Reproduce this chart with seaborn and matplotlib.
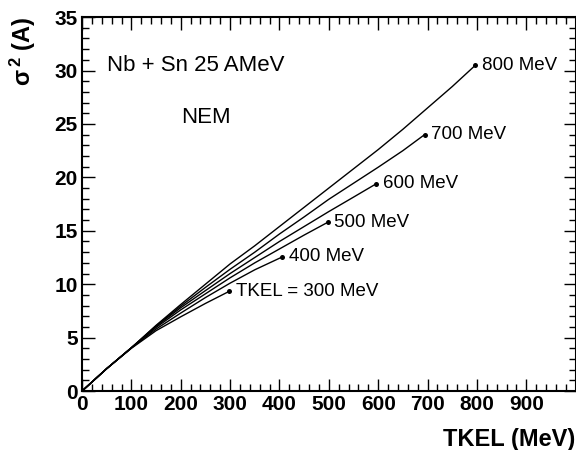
import matplotlib
matplotlib.use("Agg")
import matplotlib.pyplot as plt
import seaborn as sns
import pandas as pd
from matplotlib.ticker import MultipleLocator

# ---- data ----
tkel_300 = [0, 50, 100, 150, 200, 250, 298]
sig_300 = [0, 2.1, 4.0, 5.65, 6.95, 8.2, 9.33]

tkel_400 = [0, 50, 100, 150, 200, 250, 300, 350, 406]
sig_400 = [0, 2.1, 4.05, 5.8, 7.3, 8.75, 10.1, 11.35, 12.56]

tkel_500 = [0, 50, 100, 150, 200, 250, 300, 350, 400, 450, 498]
sig_500 = [0, 2.1, 4.05, 5.95, 7.6, 9.1, 10.6, 12.0, 13.3, 14.6, 15.8]

tkel_600 = [0, 50, 100, 150, 200, 250, 300, 350, 400, 450, 500, 550, 596]
sig_600 = [0, 2.1, 4.05, 6.05, 7.8, 9.4, 11.0, 12.5, 14.0, 15.4, 16.8, 18.15, 19.4]

tkel_700 = [0, 50, 100, 150, 200, 250, 300, 350, 400, 450, 500, 550, 600, 650, 694]
sig_700 = [0, 2.1, 4.05, 6.1, 7.95, 9.7, 11.4, 13.0, 14.7, 16.3, 17.95, 19.45, 20.95, 22.5, 24.0]

tkel_800 = [0, 50, 100, 150, 200, 250, 300, 350, 400, 450, 500, 550, 600, 650, 700, 750, 797]
sig_800 = [0, 2.1, 4.05, 6.15, 8.1, 10.0, 11.9, 13.6, 15.4, 17.2, 19.0, 20.8, 22.6, 24.5, 26.5, 28.5, 30.5]

series_names = ["300", "400", "500", "600", "700", "800"]
end_labels = ["TKEL = 300 MeV", "400 MeV", "500 MeV", "600 MeV", "700 MeV", "800 MeV"]
x_ticks = [0, 100, 200, 300, 400, 500, 600, 700, 800, 900]
y_ticks = [0, 5, 10, 15, 20, 25, 30, 35]

xs = [tkel_300, tkel_400, tkel_500, tkel_600, tkel_700, tkel_800]
ys = [sig_300, sig_400, sig_500, sig_600, sig_700, sig_800]

frames = []
for name, x, y in zip(series_names, xs, ys):
    frames.append(pd.DataFrame({"TKEL": x, "sigma2": y, "series": name}))
df = pd.concat(frames, ignore_index=True)
ends = pd.DataFrame({"TKEL": [x[-1] for x in xs], "sigma2": [y[-1] for y in ys],
                     "label": end_labels})

sns.set_style("ticks")
plt.rcParams["font.family"] = ["Liberation Sans", "DejaVu Sans"]
plt.rcParams["mathtext.default"] = "regular"
for key in ["text.color", "axes.labelcolor", "xtick.color", "ytick.color", "axes.edgecolor"]:
    plt.rcParams[key] = "black"

fig = plt.figure(figsize=(5.76, 4.5), dpi=100)
ax = fig.add_axes([0.1424, 0.131, 0.857, 0.831])

sns.lineplot(data=df, x="TKEL", y="sigma2", hue="series", units="series",
             estimator=None, sort=False,
             palette=["black"] * len(series_names), legend=False,
             linewidth=1.0, ax=ax)
sns.scatterplot(data=ends, x="TKEL", y="sigma2", color="black", s=13,
                edgecolor="black", linewidth=0, legend=False, ax=ax, zorder=5)

for _, r in ends.iterrows():
    ax.text(r["TKEL"] + 13, r["sigma2"], r["label"], fontsize=13.5,
            ha="left", va="center")

ax.text(51, 30.5, "Nb + Sn 25 AMeV", fontsize=16, ha="left", va="center")
ax.text(252, 25.6, "NEM", fontsize=16, ha="center", va="center")

ax.set_xlim(0, 1000)
ax.set_ylim(0, 35)
ax.set_xticks(x_ticks)
ax.set_yticks(y_ticks)
ax.xaxis.set_minor_locator(MultipleLocator(20))
ax.yaxis.set_minor_locator(MultipleLocator(1))
ax.tick_params(which="both", direction="in", top=True, right=True, width=1.0,
               labelsize=15, pad=3)
ax.tick_params(which="major", length=9)
ax.tick_params(which="minor", length=5)
for lab in ax.get_xticklabels() + ax.get_yticklabels():
    lab.set_fontweight("bold")
for sp in ax.spines.values():
    sp.set_linewidth(1.5)
    sp.set_visible(True)

ax.set_xlabel("TKEL (MeV)", fontsize=17, fontweight="bold", loc="right", labelpad=10)
ax.set_ylabel("σ$^{\\,2}$ (A)", fontsize=17, fontweight="bold", loc="top", labelpad=12)

fig.savefig("out.png", dpi=100)
